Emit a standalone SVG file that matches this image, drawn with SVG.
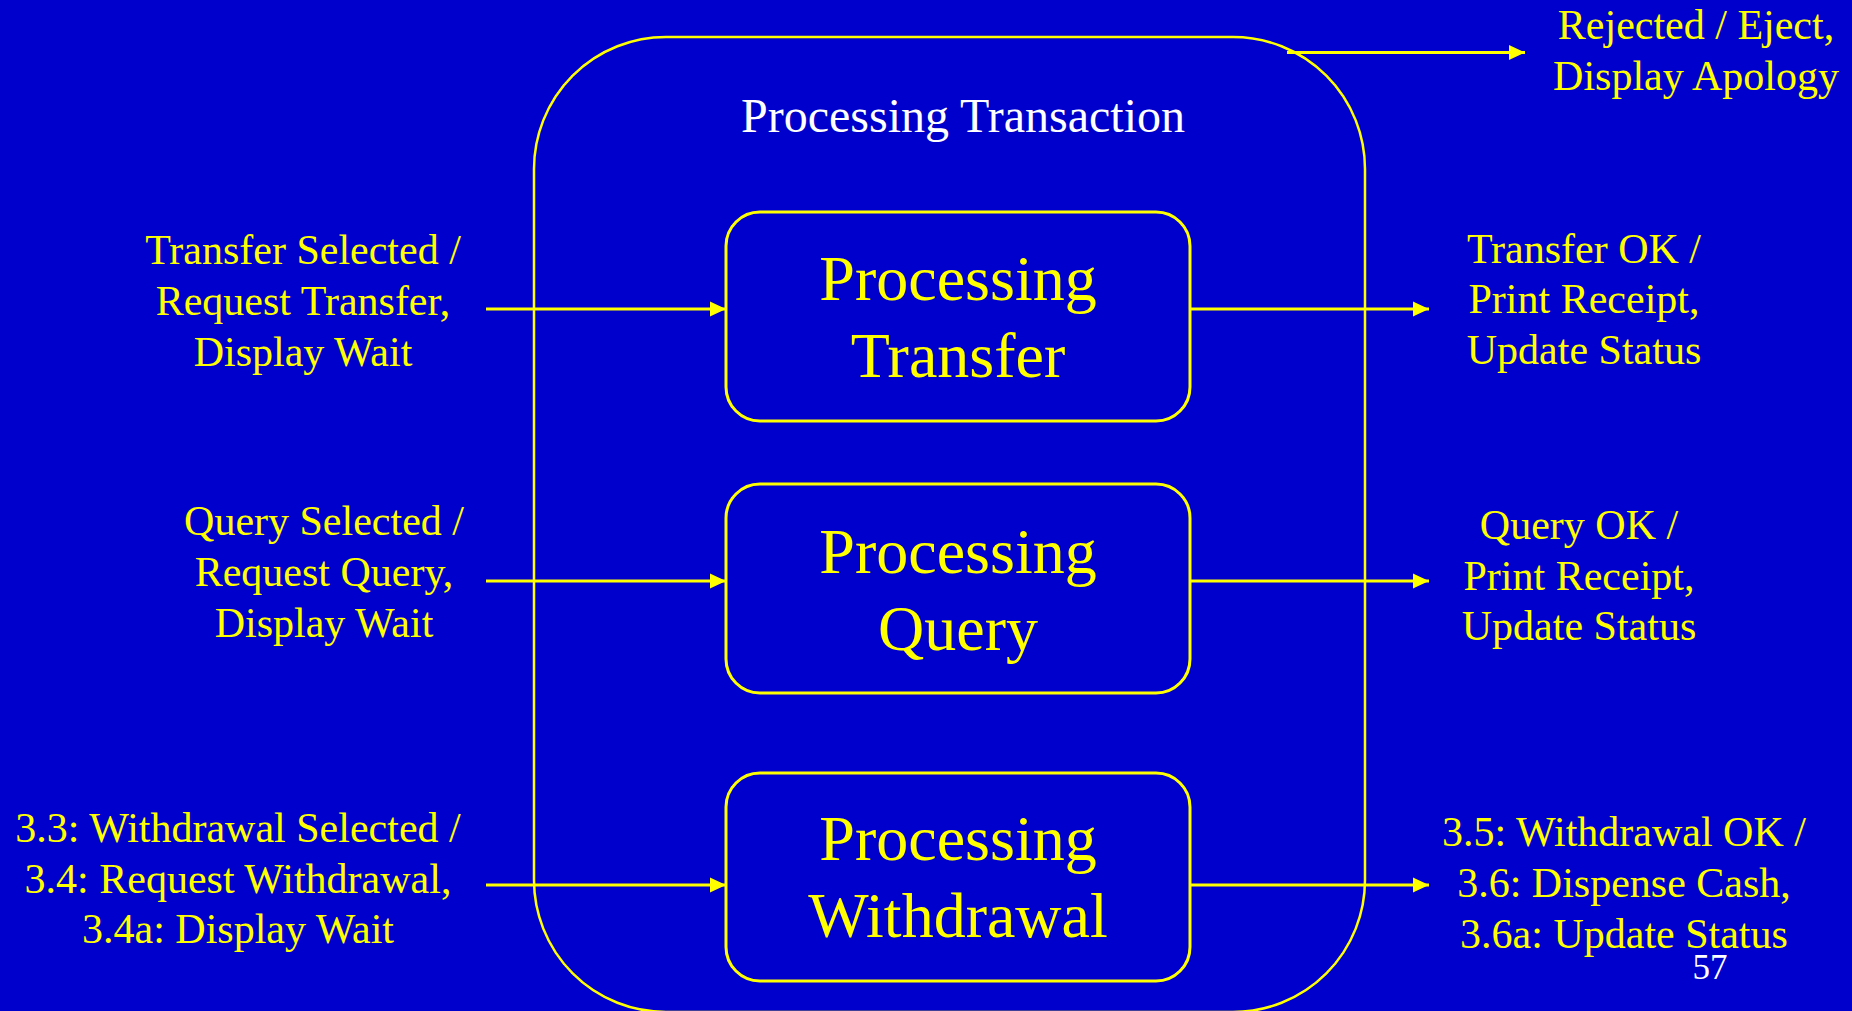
<svg xmlns="http://www.w3.org/2000/svg" width="1852" height="1011" viewBox="0 0 1852 1011">
<defs>
<style>
.bg{fill:#0000CC}
.lbl{font-family:"Liberation Serif","Times New Roman",serif;font-size:42px;fill:#FFFF00;text-anchor:middle}
.big{font-family:"Liberation Serif","Times New Roman",serif;font-size:64px;fill:#FFFF00;text-anchor:middle}
.ttl{font-family:"Liberation Serif","Times New Roman",serif;font-size:48px;fill:#FFFFFF;text-anchor:middle}
.num{font-family:"Liberation Serif","Times New Roman",serif;font-size:35px;fill:#FFFFFF;text-anchor:middle}
.box{fill:none;stroke:#FFFF00;stroke-width:3}
.outer{fill:none;stroke:#FFFF00;stroke-width:2.5}
.conn{fill:none;stroke:#FFFF00;stroke-width:3;marker-end:url(#ah)}
</style>
<marker id="ah" viewBox="0 0 16 16" markerWidth="16" markerHeight="16" refX="16" refY="8" orient="auto" markerUnits="userSpaceOnUse">
<path d="M0,0.5 L16,8 L0,15.5 Z" fill="#FFFF00"/>
</marker>
</defs>
<rect class="bg" x="0" y="0" width="1852" height="1011"/>

<g id="processing-transaction">
<rect class="outer" x="534" y="37" width="831" height="975" rx="132" ry="132"/>
<text class="ttl" x="963" y="132">Processing Transaction</text>
</g>

<g id="processing-transfer">
<rect class="box" x="726" y="212" width="464" height="209" rx="34" ry="34"/>
<text class="big" x="958" y="300">Processing</text>
<text class="big" x="958" y="377">Transfer</text>
</g>

<g id="processing-query">
<rect class="box" x="726" y="484" width="464" height="209" rx="34" ry="34"/>
<text class="big" x="958" y="573">Processing</text>
<text class="big" x="958" y="650">Query</text>
</g>

<g id="processing-withdrawal">
<rect class="box" x="726" y="773" width="464" height="208" rx="34" ry="34"/>
<text class="big" x="958" y="860">Processing</text>
<text class="big" x="958" y="937">Withdrawal</text>
</g>

<g id="connectors">
<line class="conn" x1="486" y1="309" x2="726" y2="309"/>
<line class="conn" x1="486" y1="581" x2="726" y2="581"/>
<line class="conn" x1="486" y1="885" x2="726" y2="885"/>
<line class="conn" x1="1190" y1="309" x2="1429" y2="309"/>
<line class="conn" x1="1190" y1="581" x2="1429" y2="581"/>
<line class="conn" x1="1190" y1="885" x2="1429" y2="885"/>
<line class="conn" x1="1287" y1="52.5" x2="1525" y2="52.5"/>
</g>

<g id="labels">
<text class="lbl" x="303" y="264">Transfer Selected /</text>
<text class="lbl" x="303" y="315">Request Transfer,</text>
<text class="lbl" x="303" y="366">Display Wait</text>

<text class="lbl" x="324" y="535">Query Selected /</text>
<text class="lbl" x="324" y="586">Request Query,</text>
<text class="lbl" x="324" y="637">Display Wait</text>

<text class="lbl" x="238" y="842">3.3: Withdrawal Selected /</text>
<text class="lbl" x="238" y="893">3.4: Request Withdrawal,</text>
<text class="lbl" x="238" y="943">3.4a: Display Wait</text>

<text class="lbl" x="1584" y="263">Transfer OK /</text>
<text class="lbl" x="1584" y="313">Print Receipt,</text>
<text class="lbl" x="1584" y="364">Update Status</text>

<text class="lbl" x="1579" y="539">Query OK /</text>
<text class="lbl" x="1579" y="590">Print Receipt,</text>
<text class="lbl" x="1579" y="640">Update Status</text>

<text class="lbl" x="1624" y="846">3.5: Withdrawal OK /</text>
<text class="lbl" x="1624" y="897">3.6: Dispense Cash,</text>
<text class="lbl" x="1624" y="948">3.6a: Update Status</text>

<text class="lbl" x="1696" y="39">Rejected / Eject,</text>
<text class="lbl" x="1696" y="90">Display Apology</text>

<text class="num" x="1710" y="979">57</text>
</g>
</svg>
